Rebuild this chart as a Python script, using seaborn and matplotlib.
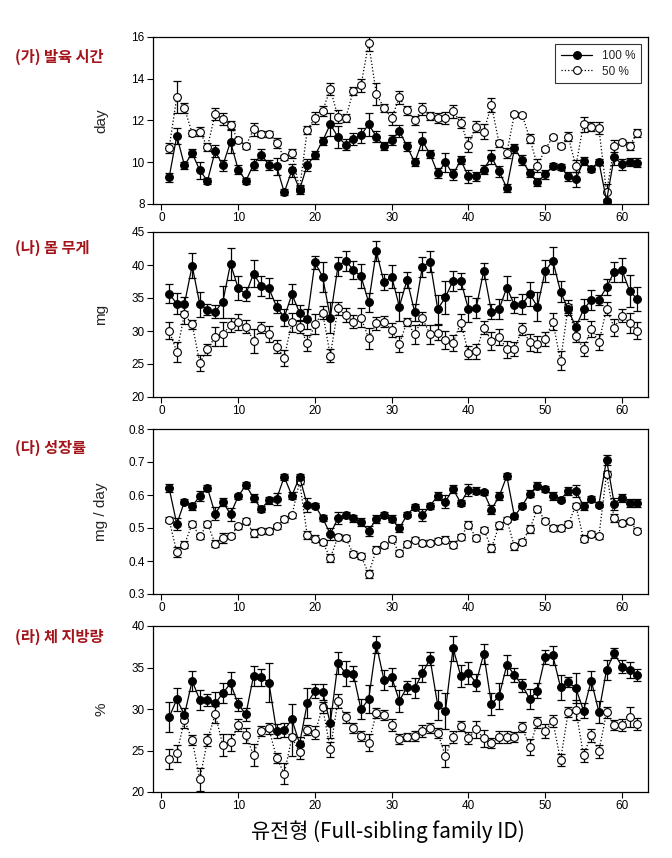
import numpy as np
import pandas as pd
import matplotlib
matplotlib.use("Agg")
import matplotlib.pyplot as plt
import seaborn as sns

sns.set_style("ticks")
plt.rcParams["font.family"] = ["Liberation Sans", "Noto Sans CJK KR", "DejaVu Sans"]

# ── Data ──────────────────────────────────────────────────────────────────────
families = list(range(1, 63))

dev_100 = [9.27, 11.26, 9.85, 10.44, 9.61, 9.11, 10.53, 9.85, 10.98, 9.65,
           9.11, 9.89, 10.37, 9.87, 9.81, 8.56, 9.61, 8.69, 9.87, 10.34,
           11.02, 11.82, 11.21, 10.85, 11.11, 11.29, 11.82, 11.23, 10.77, 11.06,
           11.5, 10.76, 10.0, 11.02, 10.39, 9.48, 10.0, 9.42, 10.1, 9.32,
           9.32, 9.65, 10.26, 9.56, 8.77, 10.66, 10.1, 9.48, 9.05, 9.42,
           9.82, 9.79, 9.32, 9.18, 10.05, 9.69, 10.02, 8.16, 10.26, 9.9,
           10.02, 9.98]
dev_100_se = [0.22, 0.4, 0.15, 0.2, 0.4, 0.15, 0.3, 0.25, 0.55, 0.2,
              0.15, 0.25, 0.25, 0.25, 0.4, 0.15, 0.3, 0.2, 0.3, 0.2,
              0.2, 0.55, 0.55, 0.25, 0.3, 0.35, 0.55, 0.25, 0.2, 0.25,
              0.3, 0.2, 0.2, 0.45, 0.2, 0.25, 0.45, 0.25, 0.2, 0.3,
              0.2, 0.2, 0.35, 0.25, 0.2, 0.2, 0.25, 0.2, 0.2, 0.2,
              0.15, 0.15, 0.2, 0.35, 0.2, 0.15, 0.15, 0.1, 0.4, 0.25,
              0.2, 0.2]
dev_50 = [10.68, 13.13, 12.6, 11.39, 11.47, 10.73, 12.32, 12.08, 11.79, 11.05,
          10.79, 11.58, 11.37, 11.34, 10.92, 10.23, 10.42, 8.73, 11.55, 12.11,
          12.45, 13.52, 12.18, 12.11, 13.42, 13.68, 15.71, 13.27, 12.61, 12.1,
          13.11, 12.48, 12.0, 12.55, 12.23, 12.11, 12.11, 12.44, 11.9, 10.85,
          11.71, 11.47, 12.74, 10.9, 10.45, 12.31, 12.27, 11.13, 9.84, 10.63,
          11.19, 10.79, 11.23, 9.82, 11.82, 11.71, 11.63, 8.56, 10.77, 10.97,
          10.79, 11.39]
dev_50_se = [0.25, 0.75, 0.25, 0.15, 0.2, 0.2, 0.3, 0.3, 0.2, 0.1,
             0.15, 0.3, 0.15, 0.15, 0.25, 0.1, 0.2, 0.15, 0.2, 0.3,
             0.25, 0.3, 0.3, 0.2, 0.2, 0.3, 0.4, 0.55, 0.2, 0.3,
             0.3, 0.2, 0.2, 0.3, 0.2, 0.25, 0.3, 0.3, 0.25, 0.35,
             0.25, 0.35, 0.35, 0.15, 0.25, 0.1, 0.1, 0.2, 0.3, 0.1,
             0.1, 0.1, 0.2, 0.3, 0.35, 0.2, 0.3, 0.4, 0.3, 0.1,
             0.2, 0.2]

wt_100 = [35.66, 34.14, 34.1, 39.9, 34.04, 33.23, 32.93, 34.44, 40.2, 36.46,
          35.6, 38.69, 36.82, 36.46, 33.69, 32.07, 35.56, 32.78, 31.87, 40.4,
          38.23, 32.02, 39.8, 40.66, 39.24, 38.33, 34.34, 42.07, 37.37, 38.23,
          33.69, 37.73, 32.83, 39.75, 40.5, 33.33, 35.1, 37.63, 37.63, 33.33,
          33.43, 39.14, 32.93, 33.33, 36.57, 33.94, 34.09, 35.56, 33.69, 39.09,
          40.66, 35.96, 33.28, 30.56, 33.28, 34.7, 34.7, 36.62, 38.99, 39.24,
          36.11, 34.8]
wt_100_se = [1.4, 1.6, 1.0, 1.9, 1.9, 0.8, 1.0, 2.4, 2.4, 1.8,
             1.0, 2.0, 1.5, 1.5, 1.0, 1.3, 1.5, 1.2, 1.5, 1.0,
             2.3, 2.3, 1.4, 1.5, 1.3, 1.8, 1.4, 1.5, 1.2, 1.7,
             2.2, 1.2, 1.3, 1.5, 1.6, 2.2, 2.5, 1.5, 1.2, 2.0,
             1.5, 1.2, 1.1, 1.5, 1.8, 1.2, 1.5, 1.8, 2.2, 1.6,
             2.0, 1.6, 0.8, 1.0, 1.5, 1.5, 0.8, 1.2, 1.5, 1.8,
             2.4, 1.8]
wt_50 = [30.05, 26.87, 32.53, 31.01, 25.2, 27.22, 29.14, 29.49, 30.91, 31.31,
         30.66, 28.54, 30.51, 29.49, 27.63, 25.96, 31.31, 30.66, 28.13, 31.01,
         32.78, 26.26, 33.43, 32.42, 31.41, 32.02, 28.89, 31.16, 31.41, 30.15,
         28.03, 31.41, 29.49, 31.92, 29.49, 29.75, 28.64, 28.23, 31.26, 26.72,
         26.92, 30.51, 28.48, 29.14, 27.22, 27.27, 30.35, 28.28, 27.98, 28.79,
         31.41, 25.5, 33.69, 29.29, 27.27, 30.35, 28.28, 33.38, 30.51, 32.32,
         31.26, 30.05]
wt_50_se = [1.3, 1.5, 1.5, 0.7, 1.2, 0.8, 1.4, 1.8, 1.1, 1.2,
            1.0, 1.8, 0.8, 1.2, 1.0, 1.2, 1.4, 1.0, 1.2, 1.5,
            1.0, 1.0, 1.0, 1.0, 1.0, 1.4, 1.6, 1.0, 0.8, 1.0,
            1.2, 0.6, 1.4, 1.0, 1.4, 1.1, 1.3, 1.2, 1.3, 1.0,
            1.1, 1.0, 1.3, 1.2, 1.3, 1.0, 0.9, 1.3, 1.2, 1.0,
            1.3, 1.4, 1.0, 1.0, 1.1, 1.2, 1.2, 1.0, 1.3, 1.0,
            1.5, 1.3]

gr_100 = [0.621, 0.512, 0.580, 0.566, 0.597, 0.621, 0.543, 0.579, 0.542, 0.596,
          0.630, 0.591, 0.558, 0.584, 0.588, 0.655, 0.598, 0.655, 0.570, 0.568,
          0.530, 0.482, 0.529, 0.540, 0.529, 0.518, 0.492, 0.527, 0.540, 0.528,
          0.499, 0.540, 0.564, 0.539, 0.567, 0.598, 0.580, 0.618, 0.576, 0.616,
          0.613, 0.608, 0.556, 0.596, 0.657, 0.535, 0.568, 0.604, 0.628, 0.618,
          0.598, 0.586, 0.613, 0.613, 0.566, 0.588, 0.571, 0.707, 0.574, 0.591,
          0.576, 0.576]
gr_100_se = [0.012, 0.018, 0.008, 0.01, 0.015, 0.008, 0.02, 0.012, 0.02, 0.008,
             0.008, 0.012, 0.008, 0.01, 0.018, 0.01, 0.01, 0.01, 0.02, 0.008,
             0.01, 0.018, 0.018, 0.01, 0.01, 0.012, 0.015, 0.012, 0.01, 0.01,
             0.012, 0.008, 0.008, 0.018, 0.01, 0.012, 0.02, 0.012, 0.01, 0.018,
             0.01, 0.008, 0.015, 0.012, 0.01, 0.008, 0.008, 0.01, 0.01, 0.008,
             0.012, 0.008, 0.012, 0.018, 0.012, 0.01, 0.008, 0.015, 0.018, 0.012,
             0.012, 0.012]
gr_50 = [0.525, 0.427, 0.450, 0.512, 0.475, 0.512, 0.453, 0.469, 0.477, 0.505,
         0.521, 0.485, 0.491, 0.491, 0.505, 0.527, 0.538, 0.641, 0.478, 0.468,
         0.457, 0.409, 0.473, 0.470, 0.421, 0.415, 0.362, 0.434, 0.447, 0.467,
         0.424, 0.452, 0.465, 0.455, 0.455, 0.462, 0.465, 0.450, 0.473, 0.510,
         0.470, 0.495, 0.439, 0.508, 0.525, 0.444, 0.458, 0.498, 0.558, 0.522,
         0.500, 0.500, 0.512, 0.568, 0.468, 0.482, 0.475, 0.664, 0.530, 0.515,
         0.520, 0.492]
gr_50_se = [0.008, 0.015, 0.01, 0.008, 0.008, 0.008, 0.012, 0.015, 0.008, 0.008,
            0.008, 0.012, 0.008, 0.008, 0.008, 0.008, 0.008, 0.008, 0.012, 0.01,
            0.008, 0.012, 0.008, 0.008, 0.008, 0.008, 0.012, 0.01, 0.008, 0.008,
            0.01, 0.01, 0.008, 0.01, 0.008, 0.008, 0.01, 0.012, 0.008, 0.01,
            0.008, 0.008, 0.012, 0.01, 0.008, 0.01, 0.008, 0.012, 0.01, 0.008,
            0.008, 0.008, 0.008, 0.008, 0.01, 0.01, 0.008, 0.01, 0.012, 0.01,
            0.008, 0.008]

fat_100 = [28.99, 31.17, 29.3, 33.39, 31.09, 31.05, 30.69, 31.9, 33.1, 30.56,
           29.35, 33.99, 33.83, 33.19, 27.34, 27.46, 28.75, 25.81, 30.69, 32.18,
           32.06, 28.27, 35.52, 34.31, 34.23, 29.96, 31.17, 37.74, 33.51, 33.83,
           30.97, 32.62, 32.5, 34.31, 36.05, 30.44, 29.76, 37.34, 33.99, 34.31,
           33.19, 36.65, 30.6, 31.57, 35.32, 34.11, 32.86, 31.21, 32.22, 36.25,
           36.45, 32.62, 33.27, 32.5, 29.8, 33.43, 29.64, 34.72, 36.73, 35.12,
           34.72, 34.11]
fat_100_se = [1.8, 1.4, 0.8, 1.2, 1.2, 0.7, 1.4, 1.2, 1.3, 0.8,
              0.8, 1.2, 1.0, 2.3, 0.8, 0.8, 1.8, 0.8, 1.8, 0.8,
              1.0, 1.8, 1.3, 1.5, 0.9, 1.2, 1.7, 1.0, 1.2, 1.1,
              1.3, 0.8, 1.2, 1.0, 0.8, 1.8, 2.2, 1.5, 1.3, 1.3,
              1.0, 1.2, 1.3, 1.6, 1.2, 0.8, 0.8, 1.2, 0.9, 0.8,
              1.1, 1.5, 0.6, 1.8, 0.9, 1.2, 1.3, 1.2, 0.6, 0.8,
              1.0, 0.7]
fat_50 = [24.03, 24.64, 28.67, 26.25, 21.53, 26.25, 29.35, 25.65, 25.97, 28.06,
          26.81, 24.44, 27.34, 27.66, 24.11, 22.22, 26.57, 24.76, 27.46, 27.14,
          30.2, 25.16, 30.97, 28.99, 27.66, 26.73, 25.93, 29.48, 29.27, 28.06,
          26.37, 26.65, 26.73, 27.34, 27.74, 27.14, 24.31, 26.65, 27.94, 26.53,
          27.54, 26.45, 25.85, 26.65, 26.65, 26.65, 27.78, 25.44, 28.39, 27.34,
          28.55, 23.83, 29.6, 29.88, 24.44, 26.85, 24.92, 29.6, 28.06, 28.06,
          28.99, 28.19]
fat_50_se = [1.2, 1.0, 0.9, 0.6, 1.4, 0.7, 1.0, 1.3, 1.0, 0.7,
             0.9, 1.3, 0.6, 0.7, 0.6, 1.3, 2.2, 0.8, 0.6, 0.8,
             0.7, 0.9, 0.8, 0.7, 0.6, 0.6, 1.0, 0.6, 0.6, 0.7,
             0.6, 0.5, 0.6, 0.7, 0.6, 0.6, 1.3, 0.7, 0.6, 0.7,
             1.0, 1.0, 0.6, 0.7, 0.7, 0.6, 0.6, 1.0, 0.7, 0.8,
             0.7, 0.7, 0.6, 1.2, 0.8, 0.8, 0.8, 0.7, 0.6, 0.7,
             1.2, 0.7]

panel_titles = ["(가) 발육 시간", "(나) 몸 무게", "(다) 성장률", "(라) 체 지방량"]
y_labels = ["day", "mg", "mg / day", "%"]
y_ticks = [[8, 10, 12, 14, 16],
           [20, 25, 30, 35, 40, 45],
           [0.3, 0.4, 0.5, 0.6, 0.7, 0.8],
           [20, 25, 30, 35, 40]]
x_ticks = [0, 10, 20, 30, 40, 50, 60]
series_labels = ["100 %", "50 %"]

panels = [
    (dev_100, dev_100_se, dev_50, dev_50_se),
    (wt_100, wt_100_se, wt_50, wt_50_se),
    (gr_100, gr_100_se, gr_50, gr_50_se),
    (fat_100, fat_100_se, fat_50, fat_50_se),
]

# ── Figure layout (pixel-matched to the reference) ───────────────────────────
W, H = 672, 858
fig = plt.figure(figsize=(W / 100, H / 100), dpi=100)
fig.patch.set_facecolor("white")

ax_left, ax_right = 153, 648
ax_boxes = [(37, 204), (232, 397), (429, 594), (626, 792)]   # (top, bottom) in px
title_y = [57, 248, 448, 637]
TITLE_COLOR = "#a3151b"
KFONT = ["Noto Sans CJK KR", "DejaVu Sans"]

for i, ((y100, e100, y50, e50), (top, bot)) in enumerate(zip(panels, ax_boxes)):
    ax = fig.add_axes([ax_left / W, 1 - bot / H,
                       (ax_right - ax_left) / W, (bot - top) / H])
    df = pd.DataFrame({"family": families, "full": y100, "full_se": e100,
                       "half": y50, "half_se": e50})

    # error bars first, markers on top
    ax.errorbar(df["family"], df["half"], yerr=df["half_se"], fmt="none",
                ecolor="black", elinewidth=0.9, capsize=2.8, capthick=0.9, zorder=2)
    ax.errorbar(df["family"], df["full"], yerr=df["full_se"], fmt="none",
                ecolor="black", elinewidth=0.9, capsize=2.8, capthick=0.9, zorder=2)

    sns.lineplot(data=df, x="family", y="full", ax=ax, color="black", lw=0.9,
                 marker="o", markersize=5.6, markerfacecolor="black",
                 markeredgecolor="black", markeredgewidth=0.8,
                 label=series_labels[0] if i == 0 else None, zorder=4)
    sns.lineplot(data=df, x="family", y="half", ax=ax, color="black", lw=0.9,
                 linestyle=":", marker="o", markersize=5.6, markerfacecolor="white",
                 markeredgecolor="black", markeredgewidth=0.8,
                 label=series_labels[1] if i == 0 else None, zorder=3)

    ax.set_xlim(-1.1, 63.4)
    ax.set_ylim(y_ticks[i][0], y_ticks[i][-1])
    ax.set_xticks(x_ticks)
    ax.set_yticks(y_ticks[i])
    ax.tick_params(direction="out", length=4, width=0.8, labelsize=8.5,
                   colors="black", pad=2)
    for s in ax.spines.values():
        s.set_visible(True)
        s.set_linewidth(0.9)
        s.set_color("black")

    ax.set_xlabel("")
    ax.set_ylabel(y_labels[i], fontsize=11)
    ax.yaxis.set_label_coords((108 - ax_left) / (ax_right - ax_left), 0.5)

    fig.text(15 / W, 1 - title_y[i] / H, panel_titles[i], family=KFONT,
             fontsize=11, fontweight="bold", color=TITLE_COLOR,
             ha="left", va="center")

    if i == 0:
        leg = ax.legend(loc="upper right", fontsize=8.5, frameon=True,
                        fancybox=False, edgecolor="black", handlelength=2.6,
                        borderpad=0.5, labelspacing=0.3, borderaxespad=0.6)
        leg.get_frame().set_linewidth(0.8)
    else:
        if ax.get_legend() is not None:
            ax.get_legend().remove()

fig.text(388 / W, 1 - 832 / H, "유전형 (Full-sibling family ID)", family=KFONT,
         fontsize=15, ha="center", va="center", color="black")

fig.savefig("out.png", dpi=100, facecolor="white")
